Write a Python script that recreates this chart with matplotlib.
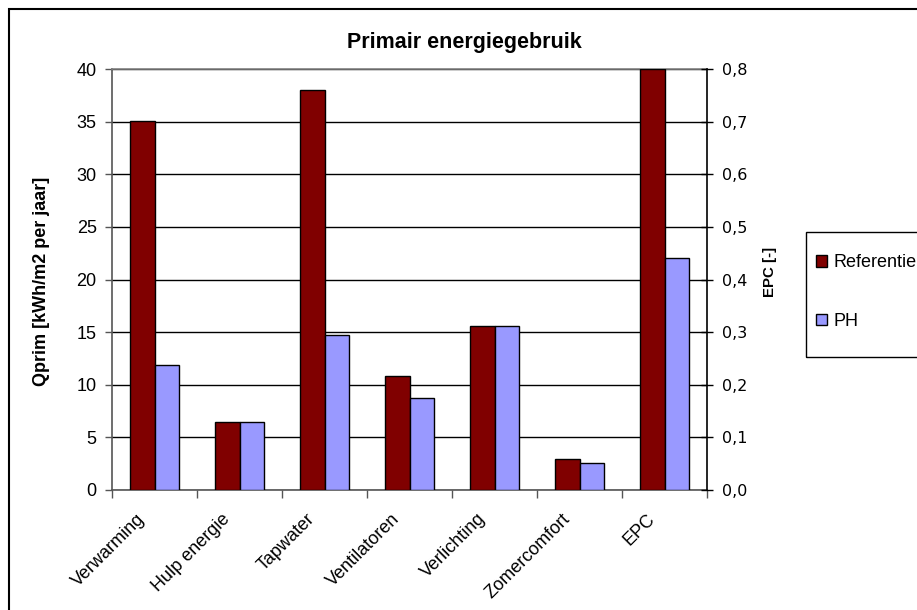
import matplotlib
matplotlib.use("Agg")
import matplotlib.pyplot as plt
import numpy as np
from matplotlib.patches import Rectangle, Patch
from matplotlib.ticker import FuncFormatter
from matplotlib.transforms import ScaledTranslation

categories = ["Verwarming", "Hulp energie", "Tapwater", "Ventilatoren",
              "Verlichting", "Zomercomfort", "EPC"]
referentie = [35.1, 6.5, 38.0, 10.8, 15.6, 2.95]
ph = [11.9, 6.5, 14.7, 8.7, 15.6, 2.55]
epc_referentie = 0.80
epc_ph = 0.44
left_ticks = [0, 5, 10, 15, 20, 25, 30, 35, 40]
right_ticks = [0.0, 0.1, 0.2, 0.3, 0.4, 0.5, 0.6, 0.7, 0.8]

RED = "#800000"
BLUE = "#9999FF"
FONT = "Liberation Sans"

fig = plt.figure(figsize=(9.17, 6.10), dpi=100)
W, H = 917, 610
ax = fig.add_axes([112 / W, 1 - 490 / H, (707 - 112) / W, (490 - 69) / H])
ax2 = ax.twinx()

x = np.arange(len(categories))
bw = 0.285
xr = x[:len(referentie)]
ax.bar(xr - bw / 2, referentie, bw, color=RED, edgecolor="black", linewidth=1, zorder=3)
ax.bar(xr + bw / 2, ph, bw, color=BLUE, edgecolor="black", linewidth=1, zorder=3)
ax2.bar(x[-1] - bw / 2, epc_referentie, bw, color=RED, edgecolor="black", linewidth=1, zorder=3)
ax2.bar(x[-1] + bw / 2, epc_ph, bw, color=BLUE, edgecolor="black", linewidth=1, zorder=3)

ax.set_xlim(-0.5, len(categories) - 0.5)
ax.set_ylim(0, 40)
ax2.set_ylim(0, 0.8)
ax.set_yticks(left_ticks)
ax2.set_yticks(right_ticks)
ax2.yaxis.set_major_formatter(FuncFormatter(lambda v, p: f"{v:.1f}".replace(".", ",")))

ax.yaxis.grid(True, color="black", linewidth=1, zorder=0)
ax.set_axisbelow(True)

for s in ["left", "bottom"]:
    ax.spines[s].set_color("#555555")
    ax.spines[s].set_linewidth(1.2)
ax.spines["top"].set_color("#808080")
ax.spines["top"].set_linewidth(1.2)
ax.spines["right"].set_visible(False)
for s in ["left", "bottom", "top"]:
    ax2.spines[s].set_visible(False)
ax2.spines["right"].set_color("black")
ax2.spines["right"].set_linewidth(1.2)

ax.tick_params(axis="y", direction="out", length=5, width=1, color="#555555",
               labelsize=13, pad=6)
for t in ax.get_yticklabels():
    t.set_fontfamily(FONT)
ax2.tick_params(axis="y", direction="inout", length=8, width=1, color="black",
                labelsize=11.5, pad=7)
for t in ax2.get_yticklabels():
    t.set_fontfamily("DejaVu Sans")

ax.set_xticks(np.arange(len(categories) + 1) - 0.5, minor=False)
ax.set_xticklabels([])
ax.set_xticks(x, minor=True)
ax.set_xticklabels(categories, minor=True, rotation=45, ha="right", va="center",
                   rotation_mode="anchor", fontfamily=FONT, fontsize=13)
ax.tick_params(axis="x", which="major", direction="out", length=6, width=1, color="#555555")
ax.tick_params(axis="x", which="minor", length=0, pad=19)
shift = ScaledTranslation(-12 / 100, 0, fig.dpi_scale_trans)
for t in ax.get_xticklabels(minor=True):
    t.set_transform(t.get_transform() + shift)

fig.text(464 / W, 1 - 48 / H, "Primair energiegebruik", ha="center", va="baseline",
         fontfamily=FONT, fontsize=15.5, fontweight="bold")
fig.text(42 / W, 1 - 281 / H, "Qprim [kWh/m2 per jaar]", ha="center", va="center",
         rotation=90, fontfamily=FONT, fontsize=13, fontweight="bold")
fig.text(770 / W, 1 - 272 / H, "EPC [-]", ha="center", va="center",
         rotation=90, fontfamily=FONT, fontsize=10.8, fontweight="bold")

handles = [Patch(facecolor=RED, edgecolor="black", label="Referentie"),
           Patch(facecolor=BLUE, edgecolor="black", label="PH")]
leg = fig.legend(handles=handles, loc="center left",
                 bbox_to_anchor=(816 / W, 1 - 292 / H), frameon=False,
                 prop={"family": FONT, "size": 13}, handlelength=0.6,
                 handleheight=0.6, handletextpad=0.35, labelspacing=2.3,
                 borderpad=0, borderaxespad=0)

fig.patches.append(Rectangle((806 / W, 1 - 357 / H), 0.2, 125 / H,
                             transform=fig.transFigure, fill=False,
                             edgecolor="black", linewidth=1))
fig.patches.append(Rectangle((9 / W, -0.1), 1.2, 1 - 9 / H + 0.1,
                             transform=fig.transFigure, fill=False,
                             edgecolor="black", linewidth=1.5))

fig.savefig("out.png", dpi=100)
